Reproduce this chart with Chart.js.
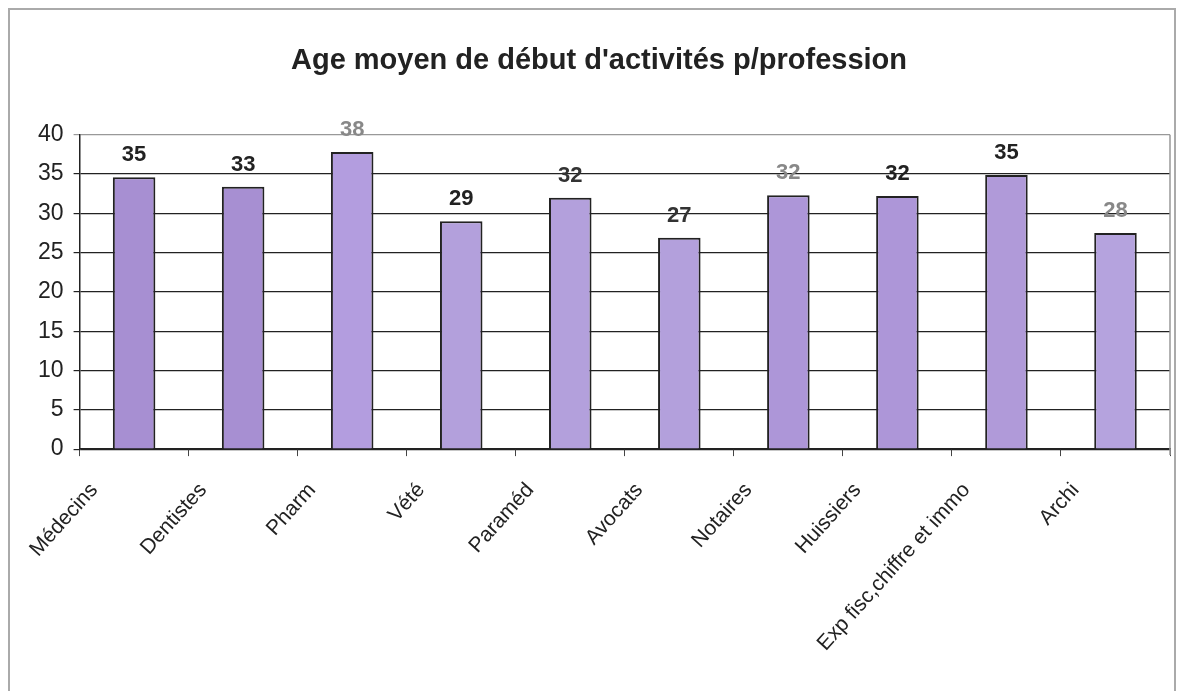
<!DOCTYPE html>
<html>
<head>
<meta charset="utf-8">
<script src="https://cdn.jsdelivr.net/npm/chart.js@4.4.0/dist/chart.umd.min.js"></script>
<style>
  html, body { margin: 0; padding: 0; background: #fff; }
  #wrap { position: relative; width: 1182px; height: 691px; }
  #frame { position: absolute; left: 8px; top: 8px; width: 1168px; height: 700px; border: 2px solid #aaa; box-sizing: border-box; }
  canvas { position: absolute; left: 0; top: 0; }
</style>
</head>
<body>
<div id="wrap">
  <div id="frame"></div>
  <canvas id="chart" width="1182" height="691"></canvas>
</div>
<script>
// data
const professions = ['Médecins', 'Dentistes', 'Pharm', 'Vété', 'Paraméd', 'Avocats', 'Notaires', 'Huissiers', 'Exp fisc,chiffre et immo', 'Archi'];
const ageMoyen = [34.6, 33.4, 37.8, 29.0, 32.0, 26.9, 32.3, 32.2, 34.9, 27.5];
const barColors = ['#a78fd2', '#a78fd2', '#b39ddf', '#b3a0dc', '#b3a0dc', '#b3a0dc', '#ad96d8', '#ad96d8', '#b09ad9', '#b5a3de'];
const labelColors = ['#222', '#222', '#888', '#222', '#333', '#333', '#888', '#222', '#222', '#888'];
const yTicks = [0, 5, 10, 15, 20, 25, 30, 35, 40];

const FONT = 'Liberation Sans, Arial, sans-serif';

// value labels above each bar
const barLabels = {
  id: 'barLabels',
  afterDatasetsDraw(chart) {
    const ctx = chart.ctx;
    const meta = chart.getDatasetMeta(0);
    ctx.save();
    ctx.font = 'bold 22px ' + FONT;
    ctx.textAlign = 'center';
    ctx.textBaseline = 'bottom';
    meta.data.forEach((bar, i) => {
      ctx.fillStyle = labelColors[i];
      ctx.fillText(Math.round(ageMoyen[i]), bar.x, bar.y - 11);
    });
    ctx.restore();
  }
};

// right edge of plot area
const plotEdge = {
  id: 'plotEdge',
  beforeDatasetsDraw(chart) {
    const { ctx, chartArea } = chart;
    ctx.save();
    ctx.strokeStyle = '#999';
    ctx.lineWidth = 1.5;
    ctx.beginPath();
    ctx.moveTo(chartArea.right, chartArea.top);
    ctx.lineTo(chartArea.right, chartArea.bottom + 6);
    ctx.stroke();
    ctx.restore();
  }
};

new Chart(document.getElementById('chart').getContext('2d'), {
  type: 'bar',
  data: {
    labels: professions,
    datasets: [{
      data: ageMoyen,
      backgroundColor: barColors,
      borderColor: '#222',
      borderWidth: 2,
      barPercentage: 0.39,
      categoryPercentage: 1.0
    }]
  },
  options: {
    responsive: false,
    animation: false,
    layout: { padding: { left: 28, right: 12, top: 44, bottom: 13 } },
    plugins: {
      legend: { display: false },
      tooltip: { enabled: false },
      title: {
        display: true,
        text: "Age moyen de début d'activités p/profession",
        color: '#222',
        font: { family: FONT, size: 29, weight: 'bold' },
        padding: { top: 0, bottom: 56 }
      }
    },
    scales: {
      y: {
        min: 0, max: 40,
        afterBuildTicks: axis => { axis.ticks = yTicks.map(v => ({ value: v })); },
        ticks: { color: '#222', font: { family: FONT, size: 23 }, padding: 10 },
        grid: {
          color: ctx => ctx.tick && ctx.tick.value === 40 ? '#999' : '#222',
          lineWidth: 1.2,
          tickLength: 6
        },
        border: { color: '#222', width: 1.5 }
      },
      x: {
        ticks: { color: '#222', font: { family: FONT, size: 21 }, maxRotation: 48, minRotation: 48, padding: 22, labelOffset: -40 },
        grid: { drawOnChartArea: false, offset: true, tickLength: 7, color: '#444' },
        border: { color: '#222', width: 1.5 }
      }
    }
  },
  plugins: [barLabels, plotEdge]
});
</script>
</body>
</html>
